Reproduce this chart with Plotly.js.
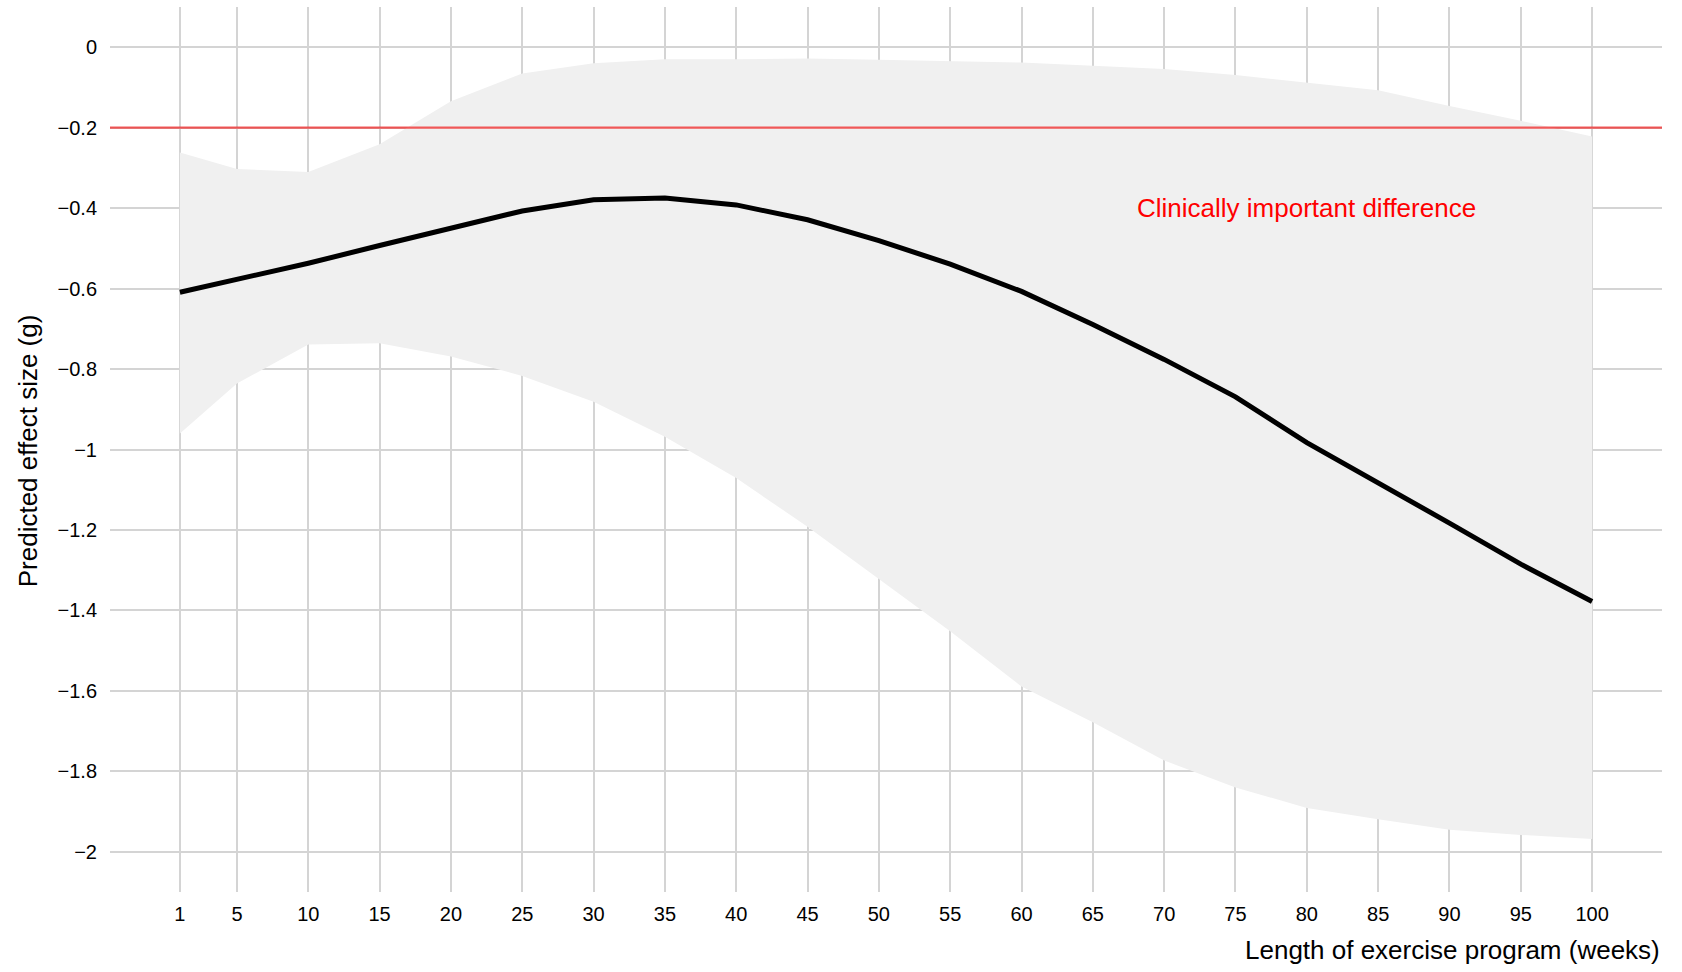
<!DOCTYPE html>
<html>
<head>
<meta charset="utf-8">
<script src="https://cdn.plot.ly/plotly-3.0.1.min.js"></script>
<style>
  html, body { margin: 0; padding: 0; background: #ffffff; }
  #chart { width: 1682px; height: 972px; }
</style>
</head>
<body>
<div id="chart"></div>
<script>
// Length of exercise program (weeks)
const weeks = [1, 5, 10, 15, 20, 25, 30, 35, 40, 45, 50, 55, 60, 65, 70, 75, 80, 85, 90, 95, 100];
// Predicted effect size (g)
const predicted = [-0.609, -0.578, -0.537, -0.493, -0.449, -0.407, -0.379, -0.375, -0.392, -0.429, -0.481,
                   -0.539, -0.607, -0.689, -0.776, -0.869, -0.983, -1.082, -1.183, -1.285, -1.378];
// Upper confidence bound
const upper = [-0.262, -0.303, -0.310, -0.241, -0.134, -0.065, -0.040, -0.030, -0.030, -0.028, -0.031,
               -0.035, -0.038, -0.046, -0.054, -0.069, -0.088, -0.107, -0.146, -0.183, -0.222];
// Lower confidence bound
const lower = [-0.960, -0.836, -0.739, -0.736, -0.769, -0.817, -0.881, -0.968, -1.071, -1.192, -1.322,
               -1.452, -1.589, -1.678, -1.773, -1.840, -1.891, -1.919, -1.945, -1.958, -1.968];
const yTicks = [0, -0.2, -0.4, -0.6, -0.8, -1, -1.2, -1.4, -1.6, -1.8, -2];
const yTickText = ["0", "\u22120.2", "\u22120.4", "\u22120.6", "\u22120.8", "\u22121", "\u22121.2",
                   "\u22121.4", "\u22121.6", "\u22121.8", "\u22122"];
const clinicalThreshold = -0.2;
const clinicalLabel = "Clinically important difference";
const clinicalLabelPos = [80, -0.4];
const xTitle = "Length of exercise program (weeks)";
const yTitle = "Predicted effect size (g)";

const FONT = "Liberation Sans, Arial, Helvetica, sans-serif";

const traces = [
  { x: weeks, y: upper, type: "scatter", mode: "lines", line: { width: 0, color: "#f0f0f0" },
    showlegend: false, hoverinfo: "skip" },
  { x: weeks, y: lower, type: "scatter", mode: "lines", line: { width: 0, color: "#f0f0f0" },
    fill: "tonexty", fillcolor: "#f0f0f0", showlegend: false, hoverinfo: "skip" },
  { x: weeks, y: predicted, type: "scatter", mode: "lines", line: { width: 5, color: "#000000" },
    showlegend: false }
];

const layout = {
  width: 1682, height: 972,
  margin: { l: 110, r: 20, t: 7, b: 80 },
  paper_bgcolor: "#ffffff", plot_bgcolor: "#ffffff",
  font: { family: FONT, size: 20, color: "#000000" },
  xaxis: {
    range: [-3.9, 104.9],
    tickmode: "array", tickvals: weeks, ticktext: weeks.map(String),
    showgrid: true, gridcolor: "#d4d4d4", gridwidth: 2,
    zeroline: false, showline: false, ticks: "",
    ticklabelstandoff: 8,
    tickfont: { family: FONT, size: 20, color: "#000000" }
  },
  yaxis: {
    range: [-2.1, 0.1],
    tickmode: "array", tickvals: yTicks, ticktext: yTickText,
    showgrid: true, gridcolor: "#d4d4d4", gridwidth: 2,
    zeroline: false, showline: false, ticks: "",
    ticklabelstandoff: 12,
    tickfont: { family: FONT, size: 20, color: "#000000" }
  },
  shapes: [
    { type: "line", xref: "paper", x0: 0, x1: 1, yref: "y", y0: clinicalThreshold, y1: clinicalThreshold,
      line: { color: "rgba(240,50,50,0.8)", width: 2.2 }, layer: "above" }
  ],
  annotations: [
    { x: clinicalLabelPos[0], y: clinicalLabelPos[1], xref: "x", yref: "y", text: clinicalLabel, showarrow: false,
      xanchor: "center", yanchor: "middle", font: { family: FONT, size: 26, color: "#ff0000" } },
    { x: 1, y: -(950 - 892) / 885, xref: "paper", yref: "paper", text: xTitle,
      showarrow: false, xanchor: "right", yanchor: "middle",
      font: { family: FONT, size: 26, color: "#000000" } },
    { x: (28 - 110) / 1552, y: 0.498, xref: "paper", yref: "paper", text: yTitle, textangle: -90,
      showarrow: false, xanchor: "center", yanchor: "middle",
      font: { family: FONT, size: 26, color: "#000000" } }
  ]
};

Plotly.newPlot("chart", traces, layout, { displayModeBar: false, staticPlot: true });
</script>
</body>
</html>
